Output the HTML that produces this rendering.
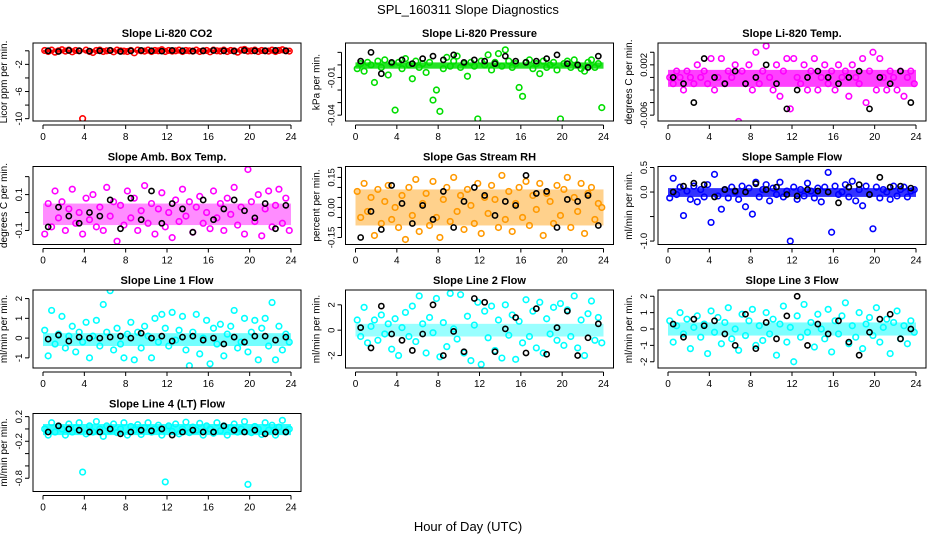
<!DOCTYPE html>
<html><head><meta charset="utf-8"><style>
body{margin:0;background:#fff}
svg{display:block;font-family:"Liberation Sans",sans-serif}
</style></head><body>
<svg id="fig" width="936" height="540" viewBox="0 0 936 540">
<rect width="936" height="540" fill="#fff"/>
<text x="468" y="14" text-anchor="middle" font-size="13">SPL_160311  Slope Diagnostics</text>
<text x="468" y="531" text-anchor="middle" font-size="13">Hour of Day (UTC)</text>
</svg>
<script>
const xTicks=[0,4,8,12,16,20,24];
const co2Color=[0.05,-0.1,0.1,-0.2,0,0.15,-0.05,0.1,-0.15,0.05,0,-10,0.1,-0.1,-0.25,0.05,0.1,-0.1,0,0.05,-0.15,0.1,0,-0.05,-0.1,0.05,-0.3,0.1,0,-0.05,0.1,-0.1,0.05,0,0.15,-0.1,0.05,-0.05,0,0.1,-0.1,0.05,0,-0.05,0.1,-0.1,0,0.05,-0.15,0.1,0,-0.05,0.1,-0.1,0.05,0,-0.2,0.1,0.2,-0.05,0,0.1,-0.1,0.05,0,-0.05,0.1,-0.1,0.05,0.15,0,-0.05];
const co2Black=[0,-0.1,0.05,0,-0.05,0,0.05,-0.1,0,0.05,0,-0.05,0.05,0,-0.05,0,0.05,0,-0.05,0.05,0,0,0.05,0];
const presColor=[-0.003,0.001,-0.005,0.002,0,-0.014,0.003,-0.002,0.004,-0.008,0.001,-0.036,0.002,-0.003,0.005,0,-0.011,0.003,-0.002,0.001,-0.006,0.002,-0.028,-0.02,-0.037,-0.003,0.006,-0.001,0.003,0.007,-0.002,0.001,-0.009,0.002,-0.001,-0.043,0.003,0,0.008,-0.004,0.002,0.009,-0.001,0.012,0.003,-0.002,0.001,-0.018,-0.025,0.002,0.004,-0.003,0.001,-0.007,0.003,-0.002,0,0.002,-0.004,-0.043,0.001,0.003,-0.002,0.004,0,-0.003,-0.005,0.002,0.004,-0.002,0.001,-0.034];
const presBlack=[0.003,0.01,-0.007,0.002,0.004,0.001,0.005,0.007,0.004,0.008,0.002,0.004,0.003,0.001,0.007,0.003,0.002,0.003,0.005,0.008,0.001,0,-0.002,0.007];
const tempColor=[0,-0.001,0.001,0,-0.002,0.001,0,-0.001,0.002,0,0.001,-0.001,0.003,-0.002,0,0.003,-0.001,0.001,0,0.002,-0.007,0.001,-0.001,0.002,-0.002,0.004,-0.001,0.001,0.005,0,-0.002,0.002,-0.003,0.001,0.003,-0.005,0.003,0,-0.001,0.002,-0.002,0.001,0.003,-0.002,0,0.002,-0.001,0.001,-0.002,0.002,0,0.001,-0.003,0.002,0,-0.001,0.003,-0.004,0.001,0.004,-0.002,0.003,0,-0.002,0.001,0,-0.002,0.001,-0.003,0,0.001,-0.001];
const tempBlack=[0,-0.001,-0.004,0.003,0,-0.001,0.001,-0.001,0,0.002,-0.001,-0.005,-0.002,0,0.001,0,-0.001,0,0.001,-0.005,0,-0.001,0.001,-0.004];
const ambColor=[-0.12,0.05,-0.08,0.12,-0.03,0.06,-0.1,0.02,0.13,-0.06,0.0,-0.12,0.08,-0.04,0.1,-0.08,0.03,-0.1,0.14,-0.02,0.06,-0.16,0.04,-0.07,0.12,-0.03,0.08,-0.1,0.01,0.15,-0.06,0.05,-0.12,0.02,0.11,-0.08,0.0,-0.14,0.07,-0.05,0.13,-0.02,0.06,-0.11,0.03,0.09,-0.06,0.0,-0.09,0.12,-0.03,0.05,-0.1,0.08,-0.01,0.14,-0.07,0.03,-0.12,0.24,0.06,-0.05,0.1,-0.13,0.02,0.12,-0.08,0.04,0.13,-0.06,0.08,-0.1];
const ambBlack=[-0.08,0.03,-0.02,-0.06,0.0,-0.02,0.07,-0.09,0.08,-0.04,0.12,-0.06,0.05,0.02,-0.11,0.07,-0.04,0.02,0.07,0.01,-0.03,0.05,-0.09,0.04];
const rhColor=[0.08,-0.05,0.12,-0.02,0.05,-0.14,0.09,-0.08,0.03,0.11,-0.06,0.0,-0.1,0.06,-0.16,0.1,-0.04,0.14,-0.12,0.02,0.07,-0.09,0.13,-0.05,-0.15,0.04,0.1,-0.07,0.15,-0.02,0.06,-0.11,0.09,0.01,-0.08,0.12,-0.13,0.05,-0.03,0.11,0.04,-0.1,0.16,-0.06,0.08,-0.12,0.02,0.1,-0.05,0.13,-0.09,0.06,-0.01,0.12,-0.14,0.07,0.03,-0.08,0.11,-0.04,0.09,0.15,-0.1,0.05,-0.02,0.12,-0.13,0.07,0.1,-0.06,0.02,0.0];
const rhBlack=[-0.15,-0.02,-0.11,0.11,0.02,-0.08,0.01,-0.06,0.08,-0.1,0.03,0.1,0.06,-0.04,0.03,0.01,0.16,0.07,0.08,-0.1,0.04,0.03,0.06,-0.09];
const sampColor=[-0.12,0.28,-0.05,0.1,-0.48,0.02,-0.15,0.12,-0.2,0.05,-0.1,0.15,-0.62,0.36,-0.08,-0.35,0.05,-0.12,0.1,0.0,-0.15,0.12,-0.3,0.08,-0.45,0.2,-0.1,0.05,0.15,-0.18,0.08,-0.05,0.2,-0.1,0.02,-1.0,0.1,-0.15,0.05,-0.08,0.18,0.02,-0.12,0.08,-0.2,0.1,0.4,-0.82,0.12,-0.05,0.0,0.15,-0.1,0.22,-0.18,0.05,-0.28,0.12,-0.05,-0.75,0.1,-0.12,0.05,0.0,-0.15,0.12,-0.08,0.05,0.1,-0.1,0.02,0.05];
const sampBlack=[0.0,0.12,0.18,0.15,-0.1,0.05,0.02,0.0,0.17,0.05,0.1,-0.05,-0.08,0.05,0.02,0.0,-0.22,0.1,0.15,-0.05,0.3,0.1,0.12,0.08];
const l1Color=[0.4,-0.9,1.4,-0.3,0.2,1.1,-0.5,0.1,0.6,-0.7,0.3,-0.2,0.8,-1.0,0.1,0.9,-0.4,1.7,0.3,2.4,-0.6,0.5,-0.3,-1.0,0.2,0.8,-1.1,0.3,-0.5,0.6,0.1,-1.0,1.0,-0.2,1.2,0.5,-0.4,1.3,-0.1,0.4,1.1,-0.6,-1.4,0.3,1.2,-0.8,0.0,0.9,-1.3,0.5,-0.3,0.7,-0.9,0.2,0.6,1.4,-0.5,-0.2,1.0,-0.7,0.3,0.9,-1.1,0.5,1.0,-0.4,1.8,-1.1,0.6,-0.6,0.2,-0.2];
const l1Black=[-0.05,0.15,-0.15,0.05,0.0,0.0,0.05,0.1,0.0,0.25,0.0,0.1,-0.15,0.05,0.1,-0.1,0.0,-0.3,0.05,-0.2,0.1,0.1,-0.1,0.05];
const l2Color=[0.8,-0.5,1.8,-1.0,0.3,0.8,-0.8,1.2,-0.3,0.5,-1.5,0.9,-2.0,0.2,1.4,-0.5,1.9,-0.9,2.7,0.5,-1.8,1.0,-0.2,2.5,-2.1,0.6,-1.3,2.9,0.1,-0.7,2.8,-1.8,1.1,-2.4,0.4,2.2,-2.7,1.5,-0.6,1.9,-1.6,0.8,-2.2,2.0,-0.4,1.2,-2.3,0.7,-1.0,2.4,-0.5,1.5,-1.4,2.2,-1.8,0.9,-0.3,1.8,-0.8,2.1,-1.2,1.6,-0.5,2.7,-1.4,0.8,-2.0,1.3,2.3,-0.8,1.0,-1.0];
const l2Black=[0.2,-1.4,1.9,-0.3,-0.8,-1.6,-0.3,2.0,-2.0,-0.1,-1.7,2.5,2.2,-1.7,0.1,1.0,-1.8,1.7,-1.9,0.2,1.5,-2.0,-0.6,0.5];
const l3Color=[0.5,-0.8,0.2,1.0,-0.3,0.6,-1.2,0.1,0.8,-0.5,0.3,-1.5,1.1,-0.2,0.7,-0.9,0.4,1.3,-0.6,0.0,-1.3,0.9,-0.4,0.5,1.2,-1.0,0.2,-0.7,1.0,-0.3,0.6,-1.6,0.3,1.4,-0.8,0.1,-2.0,0.8,-0.5,1.5,-0.2,0.4,-1.1,0.9,0.0,-0.6,1.2,-1.4,0.5,-0.3,0.8,1.6,-0.9,0.2,-0.5,1.0,-1.2,0.3,0.7,-0.4,1.3,-0.8,0.1,0.6,-1.5,0.4,1.1,-0.6,0.2,-0.9,0.5,-0.2];
const l3Black=[0.3,-0.5,0.6,0.2,0.5,-0.3,-1.0,0.9,-1.2,0.4,-0.6,0.8,2.0,-1.0,0.3,-0.3,0.5,-0.8,-1.6,-0.2,0.6,0.9,-0.6,0.0];
const l4Color=[0.0,-0.1,0.1,-0.05,0.05,0.0,-0.1,0.08,-0.05,0.02,0.1,-0.7,-0.08,0.05,-0.05,0.12,0.0,-0.12,0.05,-0.03,0.08,-0.06,0.0,0.1,-0.1,0.04,-0.02,0.07,-0.09,0.02,0.1,-0.05,0.0,0.06,-0.1,-0.86,0.05,-0.04,0.08,-0.08,0.0,0.11,-0.06,0.03,-0.02,0.09,-0.1,0.05,0.0,-0.07,0.1,-0.03,0.05,-0.1,0.02,0.08,-0.05,0.0,0.12,-0.9,-0.06,0.04,0.0,-0.09,0.1,-0.02,0.06,-0.1,0.03,0.14,-0.05,0.0];
const l4Black=[-0.05,0.05,0.0,-0.02,-0.05,-0.05,0.0,-0.08,-0.05,-0.02,-0.03,0.0,-0.1,-0.05,-0.02,-0.05,-0.05,0.05,-0.02,-0.05,-0.02,-0.08,-0.05,-0.05];
const coreBands=[[-0.2,0.15],[-0.003,0.002],[-0.0015,0.0012],[-0.07,0.05],[-0.09,0.09],[-0.1,0.08],[-0.4,0.25],[-0.5,0.5],[-0.4,0.4],[-0.1,0.08]];
const bandOpacity=[0.9,0.85,0.75,0.45,0.45,0.8,0.55,0.4,0.5,0.8];
const yTicks=[[-10,-8,-6,-4,-2,0],[0.01,0,-0.01,-0.02,-0.03,-0.04],[0.004,0.002,0,-0.002,-0.004,-0.006],[0.2,0.1,0,-0.1],[0.2,0.15,0.1,0.05,0,-0.05,-0.1,-0.15],[0.5,0,-0.5,-1.0],[2,1,0,-1],[2,0,-2],[2,1,0,-1,-2],[0.2,0,-0.2,-0.4,-0.6,-0.8]];
const yLabels=[["-10","-6","-2"],["-0.01","-0.04"],["0.002","-0.006"],["0.1","-0.1"],["0.15","0.00","-0.15"],["0.5","0.0","-1.0"],["2","1","0","-1"],["2","0","-2"],["2","1","0","-1","-2"],["0.2","-0.2","-0.8"]];

const NS="http://www.w3.org/2000/svg";
const svg=document.getElementById('fig');
function mk(tag,attrs,parent){const e=document.createElementNS(NS,tag);for(const k in attrs)e.setAttribute(k,attrs[k]);(parent||svg).appendChild(e);return e;}
const panels=[
 {t:"Slope Li-820 CO2",yl:"Licor ppm per min.",c:co2Color,b:co2Black,col:"#ff0000",r1:[0,0.10],r2:[-10,0.97],n:"co2"},
 {t:"Slope Li-820 Pressure",yl:"kPa per min.",c:presColor,b:presBlack,col:"#00dd00",r1:[0.01,0.12],r2:[-0.04,0.925],n:"pressure"},
 {t:"Slope Li-820 Temp.",yl:"degrees C per min.",c:tempColor,b:tempBlack,col:"#ff00ff",r1:[0.002,0.28],r2:[-0.006,0.925],n:"li820-temp"},
 {t:"Slope Amb. Box Temp.",yl:"degrees C per min.",c:ambColor,b:ambBlack,col:"#ff00ff",r1:[0.1,0.36],r2:[-0.1,0.82],n:"amb-box-temp"},
 {t:"Slope Gas Stream RH",yl:"percent per min.",c:rhColor,b:rhBlack,col:"#ff9900",r1:[0.15,0.14],r2:[-0.15,0.91],n:"gas-stream-rh"},
 {t:"Slope Sample Flow",yl:"ml/min per min.",c:sampColor,b:sampBlack,col:"#0000ff",r1:[0.5,0.013],r2:[-1.0,0.956],n:"sample-flow"},
 {t:"Slope Line 1 Flow",yl:"ml/min per min.",c:l1Color,b:l1Black,col:"#00ffff",r1:[2,0.11],r2:[-1,0.87],n:"line1-flow"},
 {t:"Slope Line 2 Flow",yl:"ml/min per min.",c:l2Color,b:l2Black,col:"#00ffff",r1:[2,0.19],r2:[-2,0.84],n:"line2-flow"},
 {t:"Slope Line 3 Flow",yl:"ml/min per min.",c:l3Color,b:l3Black,col:"#00ffff",r1:[2,0.08],r2:[-2,0.92],n:"line3-flow"},
 {t:"Slope Line 4 (LT) Flow",yl:"ml/min per min.",c:l4Color,b:l4Black,col:"#00ffff",r1:[0.2,0.04],r2:[-0.8,0.83],n:"line4-flow"}
];
panels.forEach((p,k)=>{
 const row=Math.floor(k/3),colI=k%3;
 const x0=43+colI*312.5, top=43+row*123.5, H=78, L=x0-10, R=x0+258;
 const xs=h=>x0+h/24*248;
 const ys=v=>top+H*(p.r1[1]+(v-p.r1[0])/(p.r2[0]-p.r1[0])*(p.r2[1]-p.r1[1]));
 const g=mk('g',{});
 
 
 const clip=mk('clipPath',{id:'cl'+k},g);mk('rect',{x:L,y:top,width:R-L,height:H},clip);
 const t=mk('text',{x:(L+R)/2,y:top-6,'text-anchor':'middle','font-size':11,'font-weight':'bold'},g);t.textContent=p.t;
 
 
 const pg=mk('g',{'clip-path':'url(#cl'+k+')'},g);
 const band=coreBands[k];
 const br=mk('rect',{x:xs(0),y:ys(band[1]),width:xs(24)-xs(0),height:ys(band[0])-ys(band[1]),fill:p.col,opacity:bandOpacity[k]},pg);
 
 
 p.c.forEach((v,i)=>{const h=i/3+1/6;
  const c=mk('circle',{cx:xs(h),cy:ys(v),r:2.8,fill:'none',stroke:p.col,'stroke-width':1.6},pg);
  
  });
 p.b.forEach((v,i)=>{const h=i+0.5;
  const c=mk('circle',{cx:xs(h),cy:ys(v),r:2.6,fill:'none',stroke:'#000','stroke-width':1.6},pg);
  
  });
 const box=mk('rect',{x:L,y:top,width:R-L,height:H,fill:'none',stroke:'#000','stroke-width':1},g);
 
 
 mk('line',{x1:xs(0),x2:xs(24),y1:top+H+4,y2:top+H+4,stroke:'#000'},g);
 xTicks.forEach(v=>{mk('line',{x1:xs(v),x2:xs(v),y1:top+H+4,y2:top+H+8,stroke:'#000'},g);
  const tl=mk('text',{x:xs(v),y:top+H+19,'text-anchor':'middle','font-size':10},g);tl.textContent=v;
  
  });
 const yt=yTicks[k];
 const yTop=Math.max(ys(yt[0]),top-2);
 mk('line',{x1:L-4,x2:L-4,y1:yTop,y2:ys(yt[yt.length-1]),stroke:'#000'},g);
 yt.forEach(v=>{if(ys(v)>=top-2) mk('line',{x1:L-8,x2:L-4,y1:ys(v),y2:ys(v),stroke:'#000'},g);});
 yLabels[k].forEach(s=>{const yy=ys(parseFloat(s));
  const tl=mk('text',{x:L-11,y:yy,'text-anchor':'middle','font-size':9.5,transform:'rotate(-90 '+(L-11)+' '+yy+')'},g);tl.textContent=s;
  
  });
 const yx=L-26,yy=top+H/2;
 const ylab=mk('text',{x:yx,y:yy,'text-anchor':'middle','font-size':10,transform:'rotate(-90 '+yx+' '+yy+')'},g);ylab.textContent=p.yl;
 
 
});
</script>
</body></html>
